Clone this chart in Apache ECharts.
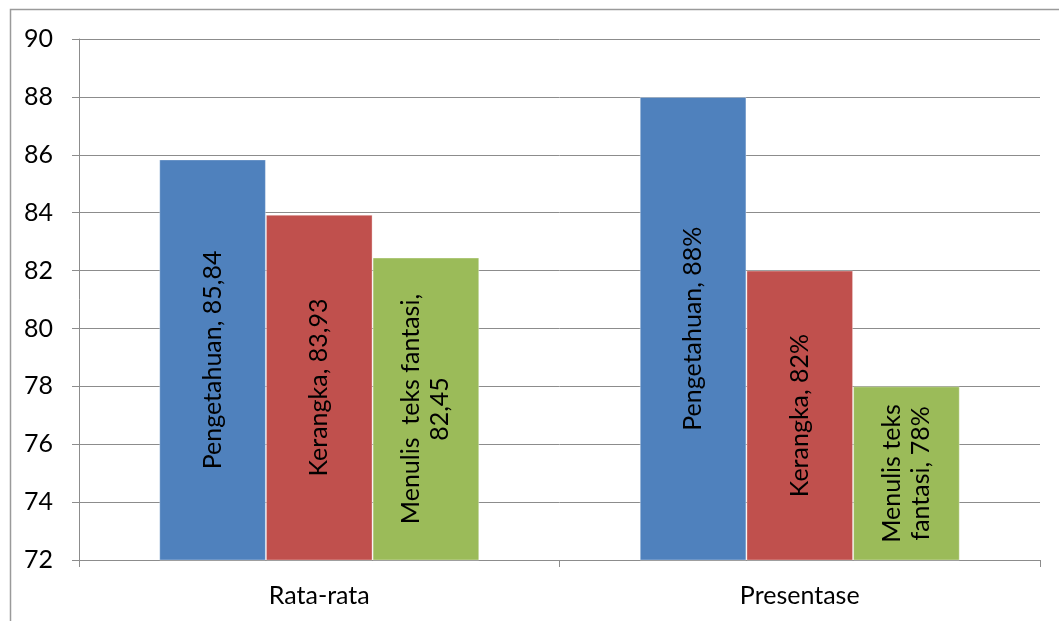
<!DOCTYPE html>
<html>
<head>
<meta charset="utf-8">
<script src="https://cdn.jsdelivr.net/npm/echarts@6/dist/echarts.min.js"></script>
<style>
html,body{margin:0;padding:0;background:#fff;}
#c{width:1059px;height:621px;}
</style>
</head>
<body>
<div id="c"></div>
<script>
var categories = ['Rata-rata', 'Presentase'];
var seriesNames = ['Pengetahuan', 'Kerangka', 'Menulis teks fantasi'];
var pengetahuan = [85.84, 88];
var kerangka = [83.93, 82];
var menulis = [82.45, 78];
var labelsPengetahuan = ['Pengetahuan, 85,84', 'Pengetahuan, 88%'];
var labelsKerangka = ['Kerangka, 83,93', 'Kerangka, 82%'];
var labelsMenulis = ['Menulis  teks fantasi,\n82,45', 'Menulis teks\nfantasi, 78%'];
var yTicks = [72, 74, 76, 78, 80, 82, 84, 86, 88, 90];
var colors = ['#4F81BD', '#C0504D', '#9BBB59'];

var FONT = 'Lato';
var FS = 25;
var chart = echarts.init(document.getElementById('c'));

function mk(name, vals, labels, color) {
  return {
    name: name,
    type: 'bar',
    data: vals,
    barGap: '0%',
    barCategoryGap: '33.4%',
    itemStyle: { color: color, borderColor: 'rgba(255,255,255,0.35)', borderWidth: 1 },
    label: {
      show: true,
      position: 'inside',
      rotate: 90,
      color: '#000',
      fontFamily: FONT,
      fontSize: FS,
      lineHeight: 29,
      align: 'center',
      verticalAlign: 'middle',
      formatter: function (p) { return labels[p.dataIndex]; }
    }
  };
}

chart.setOption({
  animation: false,
  backgroundColor: '#fff',
  grid: { left: 79, right: 19, top: 39, bottom: 61, containLabel: false },
  graphic: [{
    type: 'rect',
    shape: { x: 10.5, y: 9.5, width: 1100, height: 700 },
    style: { fill: 'none', stroke: '#9a9a9a', lineWidth: 1.5 },
    silent: true
  }],
  xAxis: {
    type: 'category',
    data: categories,
    axisLine: { show: true, lineStyle: { color: '#8c8c8c', width: 1 } },
    axisTick: { show: true, inside: false, length: 7, alignWithLabel: false, lineStyle: { color: '#8c8c8c' } },
    axisLabel: { color: '#000', fontFamily: FONT, fontSize: FS, margin: 23 },
    splitLine: { show: false }
  },
  yAxis: {
    type: 'value',
    min: yTicks[0],
    max: yTicks[yTicks.length - 1],
    interval: 2,
    axisLine: { show: true, lineStyle: { color: '#8c8c8c', width: 1 } },
    axisTick: { show: true, inside: false, length: 7, lineStyle: { color: '#8c8c8c' } },
    axisLabel: { color: '#000', fontFamily: FONT, fontSize: FS, margin: 26 },
    splitLine: { show: true, lineStyle: { color: '#8c8c8c', width: 1 } }
  },
  series: [
    mk(seriesNames[0], pengetahuan, labelsPengetahuan, colors[0]),
    mk(seriesNames[1], kerangka, labelsKerangka, colors[1]),
    mk(seriesNames[2], menulis, labelsMenulis, colors[2])
  ]
});
</script>
</body>
</html>
